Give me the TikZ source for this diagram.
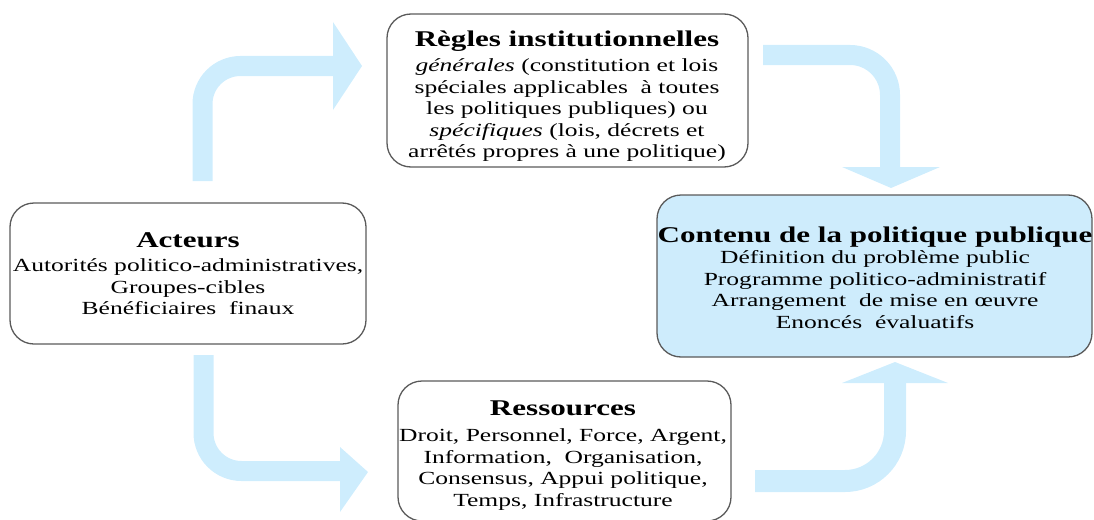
\documentclass[tikz,border=0pt]{standalone}
\usepackage{fontspec}
\setmainfont{Liberation Serif}[FakeStretch=1.38]
\definecolor{arrowblue}{RGB}{206,237,253}
\definecolor{boxblue}{RGB}{206,236,252}
\definecolor{boxline}{RGB}{90,90,90}
\newcommand\boxtitle[1]{{\fontsize{22.5}{26}\selectfont\bfseries #1}}
\begin{document}
\begin{tikzpicture}[x=1pt,y=-1pt,
  box/.style={draw=boxline, line width=1.3pt, rounded corners=24pt, inner sep=0pt},
  txt/.style={align=center, inner sep=0pt, font=\fontsize{18.5}{21.5}\selectfont},
  shaft/.style={draw=arrowblue, line width=20pt},
  head/.style={fill=arrowblue}]
\useasboundingbox (0,0) rectangle (1094,519);
\begin{scope}
\clip (0,0) rectangle (1094,519);
% boxes
\node[box, minimum width=361pt, minimum height=153pt] (regles) at (567.5,90.5) {};
\node[box, minimum width=356pt, minimum height=141pt] (acteurs) at (188,273.5) {};
\node[box, fill=boxblue, minimum width=435pt, minimum height=162pt] (contenu) at (874.5,276) {};
\node[box, minimum width=333pt, minimum height=140pt] (ressources) at (564.5,451) {};
\end{scope}
% texts
\node[txt] (reglesT) at (567,96) {\boxtitle{Règles institutionnelles}\\[4pt]
  \textit{générales} (constitution et lois\\
  spéciales applicables\ \ à toutes\\
  les politiques publiques) ou\\
  \textit{spécifiques} (lois, décrets et\\
  arrêtés propres à une politique)};
\node[txt] (acteursT) at (188,273.5) {\boxtitle{Acteurs}\\[3pt]
  Autorités politico-administratives,\\
  Groupes-cibles\\
  Bénéficiaires\ \ finaux};
\node[txt] (contenuT) at (875,277.5) {\boxtitle{Contenu de la politique publique}\\
  Définition du problème public\\
  Programme politico-administratif\\
  Arrangement\ \ de mise en œuvre\\
  Enoncés\ \ évaluatifs};
\node[txt] (ressourcesT) at (563,455.5) {\boxtitle{Ressources}\\[5pt]
  Droit, Personnel, Force, Argent,\\
  Information,\ \ Organisation,\\
  Consensus, Appui politique,\\
  Temps, Infrastructure};
% arrow start points
\coordinate (a1s) at (202.5,181);
\coordinate (a2s) at (763,55);
\coordinate (a3s) at (203.5,355);
\coordinate (a4s) at (755,481);
% arrow 1 : acteurs -> regles
\draw[shaft, rounded corners=38pt] (a1s) -- (202.5,66) -- (334,66);
\fill[head] (333,22) -- (362,66) -- (333,110) -- cycle;
% arrow 2 : regles -> contenu
\draw[shaft, rounded corners=40pt] (a2s) -- (890,55) -- (890,168);
\fill[head] (842,167) -- (940,167) -- (891,188) -- cycle;
% arrow 3 : acteurs -> ressources
\draw[shaft, rounded corners=38pt] (a3s) -- (203.5,471) -- (341,471);
\fill[head] (340,447) -- (368,472) -- (340,512) -- cycle;
% arrow 4 : ressources -> contenu
\draw[shaft, line width=22pt, rounded corners=50pt] (a4s) -- (895,481) -- (895,382);
\fill[head] (842,383) -- (948,383) -- (895,362) -- cycle;
\end{tikzpicture}
\end{document}
